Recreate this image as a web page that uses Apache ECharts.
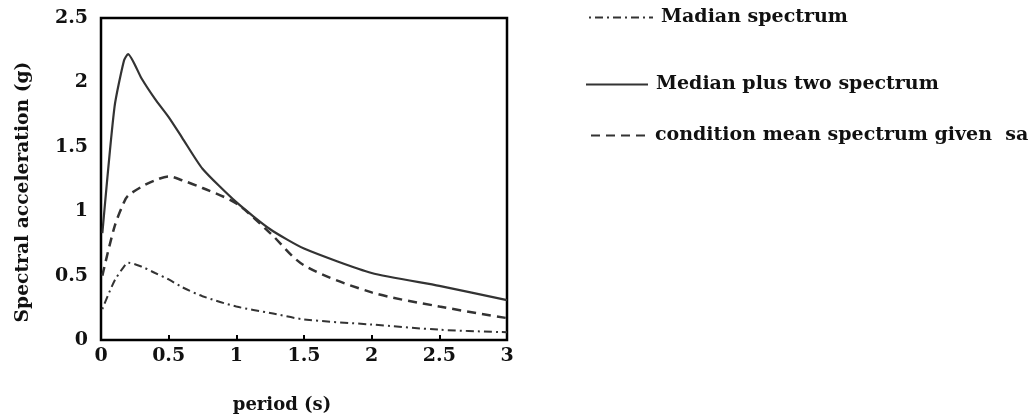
<!DOCTYPE html>
<html>
<head>
<meta charset="utf-8">
<script src="https://cdn.jsdelivr.net/npm/echarts@6/dist/echarts.min.js"></script>
<style>
  html, body { margin: 0; padding: 0; background: #fff; }
  #chart { width: 1036px; height: 419px; }
</style>
</head>
<body>
<div id="chart"></div>
<script>
// period (s)
const periods = [0.01, 0.1, 0.17, 0.2, 0.3, 0.4, 0.5, 0.6, 0.75, 1.0, 1.25, 1.5, 2.0, 2.5, 3.0];
// spectral acceleration (g)
const medianSpectrum = [0.24, 0.46, 0.57, 0.60, 0.57, 0.52, 0.47, 0.41, 0.34, 0.26, 0.21, 0.16, 0.12, 0.08, 0.06];
const medianPlusTwo = [0.83, 1.81, 2.17, 2.22, 2.03, 1.87, 1.73, 1.57, 1.33, 1.07, 0.86, 0.71, 0.52, 0.42, 0.31];
const conditionMean = [0.50, 0.88, 1.07, 1.12, 1.19, 1.24, 1.27, 1.24, 1.18, 1.06, 0.83, 0.58, 0.37, 0.26, 0.17];

const seriesNames = ['Madian spectrum', 'Median plus two spectrum', 'condition mean spectrum given  sa'];

const pairs = (ys) => periods.map((x, i) => [x, ys[i]]);

const FONT = 'DejaVu Serif';
const chart = echarts.init(document.getElementById('chart'));

const legendText = { fontFamily: FONT, fontWeight: 'bold', fontSize: 19, color: '#111', padding: [0, 0, 0, 3] };
// hide the marker dot, keep only the line sample
const legendItem = { opacity: 0 };

const option = {
  backgroundColor: '#fff',
  animation: false,
  grid: {
    left: 101,
    right: 529,
    top: 18,
    bottom: 76,
    show: true,
    borderColor: '#000',
    borderWidth: 2.5,
  },
  legend: [
    { data: [seriesNames[0]], left: 583, top: 3, itemWidth: 64, itemHeight: 14, itemStyle: legendItem, textStyle: legendText },
    { data: [seriesNames[1]], left: 580, top: 70, itemWidth: 62, itemHeight: 14, itemStyle: legendItem, textStyle: legendText },
    { data: [seriesNames[2]], left: 585, top: 121, itemWidth: 56, itemHeight: 14, itemStyle: legendItem, textStyle: legendText },
  ],
  xAxis: {
    type: 'value',
    min: 0,
    max: 3,
    interval: 0.5,
    name: 'period (s)',
    nameLocation: 'middle',
    nameGap: 56,
    nameTextStyle: { fontFamily: FONT, fontWeight: 'bold', fontSize: 18, color: '#111', padding: [0, 44, 0, 0] },
    axisLine: { show: false },
    axisTick: { show: true, inside: true, length: 5, lineStyle: { color: '#000', width: 2 } },
    axisLabel: { margin: 7, fontFamily: FONT, fontWeight: 'bold', fontSize: 19, color: '#111' },
    splitLine: { show: false },
  },
  yAxis: {
    type: 'value',
    min: 0,
    max: 2.5,
    interval: 0.5,
    name: 'Spectral acceleration (g)',
    nameLocation: 'middle',
    nameGap: 68,
    nameTextStyle: { fontFamily: FONT, fontWeight: 'bold', fontSize: 18.7, color: '#111', padding: [0, 26, 0, 0] },
    axisLine: { show: false },
    axisTick: { show: false },
    axisLabel: { margin: 13, fontFamily: FONT, fontWeight: 'bold', fontSize: 19, color: '#111' },
    splitLine: { show: false },
  },
  series: [
    {
      name: seriesNames[0],
      type: 'line',
      data: pairs(medianSpectrum),
      symbol: 'none',
      smooth: 0.3,
      lineStyle: { color: '#333', width: 2, type: [2, 4, 8, 4] },
      itemStyle: { color: '#333' },
    },
    {
      name: seriesNames[1],
      type: 'line',
      data: pairs(medianPlusTwo),
      symbol: 'none',
      smooth: 0.2,
      lineStyle: { color: '#333', width: 2.2, type: 'solid' },
      itemStyle: { color: '#333' },
    },
    {
      name: seriesNames[2],
      type: 'line',
      data: pairs(conditionMean),
      symbol: 'none',
      smooth: 0.3,
      lineStyle: { color: '#333', width: 2.5, type: [9, 6] },
      itemStyle: { color: '#333' },
    },
  ],
};

chart.setOption(option);
</script>
</body>
</html>
